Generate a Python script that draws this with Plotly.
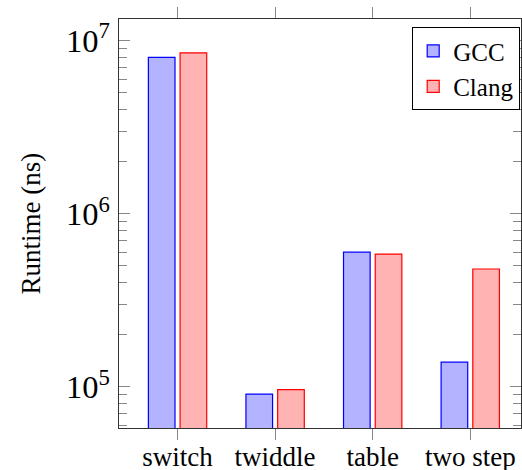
import plotly.graph_objects as go

categories = ["switch", "twiddle", "table", "two step"]
gcc_values = [8.0e6, 9.1e4, 6.0e5, 1.39e5]
clang_values = [8.5e6, 9.65e4, 5.85e5, 4.8e5]

FONT = "Liberation Serif"

fig = go.Figure()
fig.add_trace(go.Bar(
    name="GCC", x=categories, y=gcc_values, legendgroup="gcc",
    marker=dict(color="#b3b3ff", line=dict(color="#0000ff", width=1.2)),
))
fig.add_trace(go.Bar(
    name="Clang", x=categories, y=clang_values, legendgroup="clang",
    marker=dict(color="#ffb3b3", line=dict(color="#ff0000", width=1.2)),
))

fig.update_layout(
    width=522, height=470,
    margin=dict(l=119, r=1, t=19, b=42, autoexpand=False),
    paper_bgcolor="white", plot_bgcolor="white",
    font=dict(family=FONT, size=28, color="black"),
    barmode="group", bargap=0.35, bargroupgap=0.16,
    showlegend=True,
    legend=dict(
        x=0.998, y=0.98, xanchor="right", yanchor="top",
        bordercolor="black", borderwidth=1, bgcolor="white",
        font=dict(family=FONT, size=25),
        traceorder="grouped", tracegroupgap=0,
    ),
)

fig.update_xaxes(
    type="category", range=[-0.6, 3.52], automargin=False,
    showline=True, linecolor="#333", linewidth=1, mirror="ticks",
    ticks="outside", ticklen=11, tickcolor="#888", tickwidth=1,
    showgrid=False, zeroline=False, ticklabelstandoff=-6,
    tickfont=dict(family=FONT, size=27),
)
fig.update_yaxes(
    type="log", range=[4.763, 7.125], automargin=False,
    dtick=1, exponentformat="power",
    showline=True, linecolor="#333", linewidth=1, mirror="ticks",
    ticks="inside", ticklen=11, tickcolor="#888", tickwidth=1,
    minor=dict(ticks="inside", ticklen=8, tickcolor="#888", tickwidth=1, showgrid=False),
    showgrid=False, zeroline=False, ticklabelstandoff=3,
    tickfont=dict(family=FONT, size=26),
)

fig.add_annotation(
    text="Runtime (ns)", xref="paper", yref="paper",
    x=-0.219, y=0.5, xanchor="center", yanchor="middle",
    textangle=-90, showarrow=False,
    font=dict(family=FONT, size=27, color="black"),
)

fig.write_html(
    "out.html",
    config={"displayModeBar": False},
    post_script="document.documentElement.style.margin='0';"
                "document.body.style.margin='0';"
                "document.body.style.overflow='hidden';",
)
